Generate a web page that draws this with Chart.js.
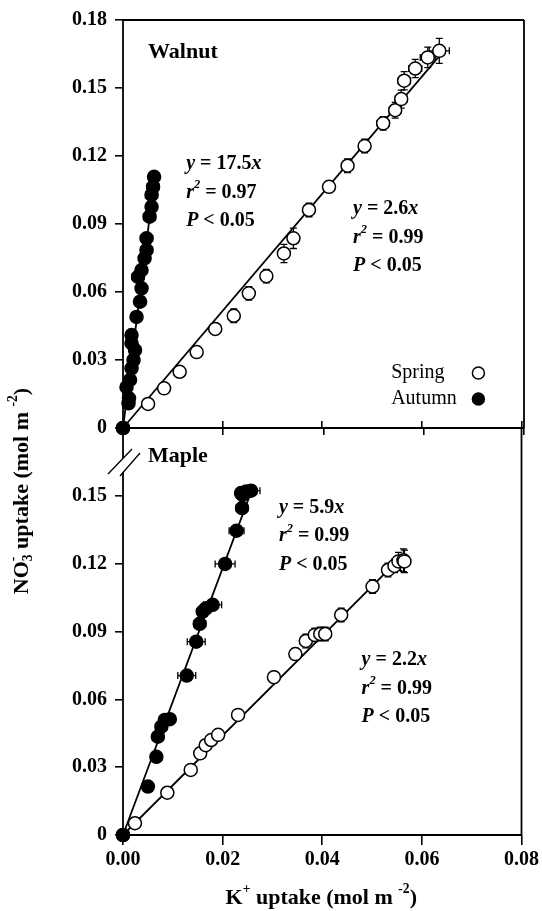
<!DOCTYPE html>
<html>
<head>
<meta charset="utf-8">
<script src="https://cdn.jsdelivr.net/npm/chart.js@4.4.1/dist/chart.umd.min.js"></script>
<style>
  body { margin: 0; background: #fff; }
  #lienzo { position: relative; width: 542px; height: 911px; }
  #lienzo canvas { position: absolute; left: 0; top: 0; }
</style>
</head>
<body>
<div id="lienzo">
  <canvas id="graficoNogal" width="542" height="911"></canvas>
  <canvas id="graficoArce" width="542" height="911"></canvas>
</div>
<script>
// Ticks
const ticksX = [0, 0.02, 0.04, 0.06, 0.08];
const ticksYNogal = [0, 0.03, 0.06, 0.09, 0.12, 0.15, 0.18];
const ticksYArce = [0, 0.03, 0.06, 0.09, 0.12, 0.15];

// Walnut - Spring
const nogalPrimaveraX = [0, 0.0050, 0.0082, 0.0113, 0.0147, 0.0184, 0.0221, 0.0251, 0.0286, 0.0321, 0.0340, 0.0371, 0.0411, 0.0448, 0.0482, 0.0519, 0.0543, 0.0555, 0.0561, 0.0583, 0.0608, 0.0631];
const nogalPrimaveraY = [0, 0.0106, 0.0175, 0.0248, 0.0335, 0.0437, 0.0495, 0.0594, 0.0670, 0.0770, 0.0837, 0.0962, 0.1064, 0.1157, 0.1244, 0.1344, 0.1402, 0.1451, 0.1532, 0.1586, 0.1635, 0.1664];
const nogalPrimaveraErrX = [0, 0.0004, 0.0004, 0.0004, 0.0005, 0.0005, 0.0005, 0.0005, 0.0005, 0.0006, 0.0008, 0.0008, 0.0010, 0.0010, 0.0010, 0.0012, 0.0012, 0.0012, 0.0012, 0.0013, 0.0015, 0.0020];
const nogalPrimaveraErrY = [0, 0.0010, 0.0015, 0.0020, 0.0020, 0.0025, 0.0030, 0.0030, 0.0030, 0.0040, 0.0045, 0.0030, 0.0025, 0.0030, 0.0030, 0.0030, 0.0035, 0.0040, 0.0040, 0.0040, 0.0045, 0.0055];

// Walnut - Autumn
const nogalOtonoX = [0, 0.0011, 0.0012, 0.0007, 0.0014, 0.0017, 0.0021, 0.0024, 0.0017, 0.0017, 0.0027, 0.0034, 0.0037, 0.0030, 0.0037, 0.0043, 0.0047, 0.0047, 0.0053, 0.0057, 0.0057, 0.0060, 0.0062];
const nogalOtonoY = [0, 0.0109, 0.0131, 0.0180, 0.0212, 0.0263, 0.0300, 0.0344, 0.0374, 0.0410, 0.0490, 0.0557, 0.0616, 0.0667, 0.0697, 0.0748, 0.0785, 0.0837, 0.0932, 0.0976, 0.1028, 0.1064, 0.1108];
const nogalOtonoErrX = [0, 0.0003, 0.0003, 0.0003, 0.0003, 0.0004, 0.0005, 0.0005, 0.0005, 0.0005, 0.0005, 0.0006, 0.0008, 0.0012, 0.0010, 0.0008, 0.0012, 0.0012, 0.0012, 0.0010, 0.0012, 0.0012, 0.0010];
const nogalOtonoErrY = [0, 0.0010, 0.0010, 0.0010, 0.0010, 0.0010, 0.0010, 0.0010, 0.0010, 0.0010, 0.0010, 0.0012, 0.0012, 0.0015, 0.0015, 0.0015, 0.0015, 0.0015, 0.0015, 0.0015, 0.0015, 0.0015, 0.0015];

// Maple - Autumn
const arceOtonoX = [0, 0.0050, 0.0067, 0.0070, 0.0077, 0.0084, 0.0094, 0.0128, 0.0147, 0.0154, 0.0160, 0.0167, 0.0180, 0.0205, 0.0228, 0.0239, 0.0237, 0.0240, 0.0247, 0.0257];
const arceOtonoY = [0, 0.0214, 0.0346, 0.0435, 0.0479, 0.0509, 0.0512, 0.0705, 0.0855, 0.0934, 0.0988, 0.1003, 0.1018, 0.1199, 0.1346, 0.1446, 0.1512, 0.1504, 0.1519, 0.1523];
const arceOtonoErrX = [0, 0, 0, 0, 0, 0, 0, 0.0018, 0.0018, 0.0012, 0.0012, 0.0012, 0.0018, 0.0020, 0.0015, 0.0012, 0.0010, 0.0012, 0.0012, 0.0018];
const arceOtonoErrY = [0, 0, 0, 0, 0, 0, 0, 0.0010, 0.0010, 0.0010, 0.0010, 0.0010, 0.0010, 0.0010, 0.0010, 0.0015, 0.0010, 0.0010, 0.0010, 0.0010];

// Maple - Spring
const arcePrimaveraX = [0, 0.0024, 0.0089, 0.0136, 0.0155, 0.0166, 0.0177, 0.0191, 0.0231, 0.0303, 0.0346, 0.0367, 0.0385, 0.0396, 0.0406, 0.0438, 0.0501, 0.0532, 0.0545, 0.0553, 0.0563, 0.0565];
const arcePrimaveraY = [0, 0.0052, 0.0187, 0.0288, 0.0361, 0.0397, 0.0420, 0.0443, 0.0531, 0.0698, 0.0800, 0.0858, 0.0885, 0.0889, 0.0889, 0.0973, 0.1099, 0.1172, 0.1190, 0.1210, 0.1215, 0.1210];
const arcePrimaveraErrX = [0, 0, 0, 0, 0, 0, 0.0010, 0.0010, 0.0010, 0.0008, 0.0008, 0.0008, 0.0008, 0.0008, 0.0010, 0.0010, 0.0010, 0.0010, 0.0010, 0.0010, 0.0012, 0.0012];
const arcePrimaveraErrY = [0, 0.0010, 0.0010, 0.0010, 0.0010, 0.0010, 0.0020, 0.0020, 0.0020, 0.0025, 0.0025, 0.0030, 0.0030, 0.0030, 0.0030, 0.0030, 0.0030, 0.0030, 0.0030, 0.0040, 0.0050, 0.0050];

// Pendientes de las regresiones
const pendienteNogalPrimavera = 2.6;
const pendienteNogalOtono = 17.5;
const pendienteArceOtono = 5.9;
const pendienteArcePrimavera = 2.2;

const fuente = '"Liberation Serif", "Times New Roman", serif';

// dibuja texto por partes (cursiva, superindice, subindice)
function dibujarPartes(ctx, x, y, partes, tam, alinear) {
    const medidas = [];
    let total = 0;
    partes.forEach((p) => {
        const t = p.sup || p.sub ? tam * 0.62 : tam;
        const f = `${p.it ? "italic " : ""}${p.normal ? "" : "bold "}${t}px ${fuente}`;
        ctx.font = f;
        const w = ctx.measureText(p.t).width;
        medidas.push({ f, w, dy: p.sup ? -tam * 0.4 : p.sub ? tam * 0.28 : 0 });
        if (!p.fijo) total += w;
    });
    let cx = alinear === "center" ? x - total / 2 : x;
    ctx.textAlign = "left";
    ctx.textBaseline = "middle";
    partes.forEach((p, i) => {
        ctx.font = medidas[i].f;
        ctx.fillText(p.t, cx, y + medidas[i].dy);
        if (!p.fijo) cx += medidas[i].w;
    });
}

function puntos(xs, ys) {
    return xs.map((x, i) => ({ x, y: ys[i] }));
}

function recta(xs, pendiente) {
    const xmax = Math.max(...xs);
    return [{ x: 0, y: 0 }, { x: xmax, y: pendiente * xmax }];
}

function ecuacion(pendiente, r2) {
    return [
        [{ t: "y", it: true }, { t: " = " + pendiente.toFixed(1) }, { t: "x", it: true }],
        [{ t: "r", it: true }, { t: "2", sup: true, it: true }, { t: " = " + r2 }],
        [{ t: "P", it: true }, { t: " < 0.05" }],
    ];
}

// barras de error (antes de los puntos)
const barrasError = {
    id: "barrasError",
    beforeDatasetsDraw(chart) {
        const { ctx, scales } = chart;
        ctx.save();
        ctx.strokeStyle = "#000";
        ctx.lineWidth = 1.3;
        chart.data.datasets.forEach((ds) => {
            if (!ds.errX) return;
            ds.data.forEach((p, i) => {
                const px = scales.x.getPixelForValue(p.x);
                const py = scales.y.getPixelForValue(p.y);
                const ex = ds.errX[i], ey = ds.errY[i];
                ctx.beginPath();
                if (ex > 0) {
                    const x1 = scales.x.getPixelForValue(p.x - ex);
                    const x2 = scales.x.getPixelForValue(p.x + ex);
                    ctx.moveTo(x1, py); ctx.lineTo(x2, py);
                    ctx.moveTo(x1, py - 3.5); ctx.lineTo(x1, py + 3.5);
                    ctx.moveTo(x2, py - 3.5); ctx.lineTo(x2, py + 3.5);
                }
                if (ey > 0) {
                    const y1 = scales.y.getPixelForValue(p.y - ey);
                    const y2 = scales.y.getPixelForValue(p.y + ey);
                    ctx.moveTo(px, y1); ctx.lineTo(px, y2);
                    ctx.moveTo(px - 3.5, y1); ctx.lineTo(px + 3.5, y1);
                    ctx.moveTo(px - 3.5, y2); ctx.lineTo(px + 3.5, y2);
                }
                ctx.stroke();
            });
        });
        ctx.restore();
    },
};

// marco del panel, con corte opcional en el eje izquierdo
const marco = {
    id: "marco",
    beforeDatasetsDraw(chart, args, opts) {
        const { ctx, chartArea: a } = chart;
        ctx.save();
        ctx.strokeStyle = "#000";
        ctx.lineWidth = 1.8;
        ctx.beginPath();
        if (opts.arriba) { ctx.moveTo(a.left, a.top); ctx.lineTo(a.right, a.top); }
        ctx.moveTo(a.right, a.top); ctx.lineTo(a.right, a.bottom);
        ctx.moveTo(a.left, a.bottom); ctx.lineTo(a.right, a.bottom);
        if (opts.corte) {
            ctx.moveTo(a.left, a.top); ctx.lineTo(a.left, a.top + opts.corte[0]);
            ctx.moveTo(a.left, a.top + opts.corte[1]); ctx.lineTo(a.left, a.bottom);
        } else {
            ctx.moveTo(a.left, a.top); ctx.lineTo(a.left, a.bottom);
        }
        ctx.stroke();
        if (opts.corte) {
            ctx.lineWidth = 1.3;
            ctx.beginPath();
            ctx.moveTo(a.left - 15, a.top + 46); ctx.lineTo(a.left + 9, a.top + 21);
            ctx.moveTo(a.left - 3, a.top + 48); ctx.lineTo(a.left + 17, a.top + 25);
            ctx.stroke();
        }
        ctx.restore();
    },
};

// textos dentro del panel (nombre, ecuaciones, leyenda)
const anotaciones = {
    id: "anotaciones",
    afterDatasetsDraw(chart, args, opts) {
        const { ctx, scales } = chart;
        ctx.save();
        ctx.fillStyle = "#000";
        (opts.items || []).forEach((it) => {
            const x = scales.x.getPixelForValue(it.x);
            const y = scales.y.getPixelForValue(it.y);
            it.lineas.forEach((l, k) => dibujarPartes(ctx, x, y + k * 28.5, l, it.tam || 20));
        });
        (opts.leyenda || []).forEach((l, k) => {
            const x = scales.x.getPixelForValue(l.x);
            const y = scales.y.getPixelForValue(l.y) + k * 26;
            dibujarPartes(ctx, x, y, [{ t: l.texto, normal: true }], 20);
            const mx = scales.x.getPixelForValue(l.xMarca);
            ctx.beginPath();
            ctx.arc(mx, y, 6, 0, Math.PI * 2);
            ctx.fillStyle = l.relleno;
            ctx.fill();
            ctx.lineWidth = 1.5;
            ctx.strokeStyle = "#000";
            ctx.stroke();
            ctx.fillStyle = "#000";
        });
        if (opts.titulos) {
            const a = chart.chartArea;
            dibujarPartes(ctx, (a.left + a.right) / 2 - 1, a.bottom + 63, [
                { t: "K" }, { t: "+", sup: true }, { t: " uptake (mol m " }, { t: "-2", sup: true }, { t: ")" },
            ], 22, "center");
            ctx.translate(22, 491);
            ctx.rotate(-Math.PI / 2);
            dibujarPartes(ctx, 0, 0, [
                { t: "NO" }, { t: "-", sup: true, fijo: true }, { t: "3", sub: true },
                { t: " uptake (mol m " }, { t: "-2", sup: true }, { t: ")" },
            ], 22, "center");
        }
        ctx.restore();
    },
};

function escalaY(ticksY) {
    return {
        type: "linear", min: 0, max: 0.18,
        afterBuildTicks: (s) => { s.ticks = ticksY.map((v) => ({ value: v })); },
        afterFit: (s) => { s.width = 123; },
        border: { display: false },
        grid: { drawOnChartArea: false, color: "#000", lineWidth: 1.6, tickLength: 8 },
        ticks: {
            color: "#000", padding: 8,
            font: { family: fuente, size: 20, weight: "bold" },
            callback: (v) => (v === 0 ? "0" : v.toFixed(2)),
        },
    };
}

function escalaX(etiquetas, alto, posicion, largo) {
    return {
        type: "linear", min: 0, max: 0.08, position: posicion,
        afterBuildTicks: (s) => { s.ticks = ticksX.map((v) => ({ value: v })); },
        afterFit: (s) => { s.height = alto; },
        border: { display: false },
        grid: { drawOnChartArea: false, color: "#000", lineWidth: 1.6, tickLength: largo },
        ticks: {
            display: etiquetas, color: "#000", padding: 3, maxRotation: 0,
            font: { family: fuente, size: 20, weight: "bold" },
            callback: (v) => v.toFixed(2),
        },
    };
}

function serie(datos, relleno, errX, errY, orden) {
    return {
        type: "scatter", data: datos, errX, errY, order: orden, clip: false,
        pointRadius: 6.5, pointHoverRadius: 6.5, pointBorderWidth: 1.5,
        pointBackgroundColor: relleno, pointBorderColor: "#000",
    };
}

function linea(datos) {
    return {
        type: "line", data: datos, order: 5, clip: false,
        borderColor: "#000", borderWidth: 1.8, pointRadius: 0, fill: false,
    };
}

const opcionesBase = {
    responsive: false,
    animation: false,
    events: [],
};

// Panel superior: Walnut
new Chart(document.getElementById("graficoNogal"), {
    type: "scatter",
    data: {
        datasets: [
            serie(puntos(nogalPrimaveraX, nogalPrimaveraY), "#fff", nogalPrimaveraErrX, nogalPrimaveraErrY, 2),
            serie(puntos(nogalOtonoX, nogalOtonoY), "#000", nogalOtonoErrX, nogalOtonoErrY, 1),
            linea(recta(nogalPrimaveraX, pendienteNogalPrimavera)),
            linea(recta(nogalOtonoX, pendienteNogalOtono)),
        ],
    },
    options: {
        ...opcionesBase,
        layout: { padding: { top: 20, right: 18, bottom: 911 - 428 - 12, left: 0 } },
        scales: { x: escalaX(false, 12, "bottom", 7), y: escalaY(ticksYNogal) },
        plugins: {
            legend: { display: false },
            tooltip: { enabled: false },
            marco: { arriba: true },
            anotaciones: {
                items: [
                    { x: 0.0050, y: 0.1658, tam: 22, lineas: [[{ t: "Walnut" }]] },
                    { x: 0.0126, y: 0.1164, lineas: ecuacion(pendienteNogalOtono, "0.97") },
                    { x: 0.0459, y: 0.0966, lineas: ecuacion(pendienteNogalPrimavera, "0.99") },
                ],
                leyenda: [
                    { texto: "Spring", x: 0.0535, y: 0.0243, xMarca: 0.0709, relleno: "#fff" },
                    { texto: "Autumn", x: 0.0535, y: 0.0243, xMarca: 0.0709, relleno: "#000" },
                ],
            },
        },
    },
    plugins: [marco, barrasError, anotaciones],
});

// Panel inferior: Maple
new Chart(document.getElementById("graficoArce"), {
    type: "scatter",
    data: {
        datasets: [
            serie(puntos(arcePrimaveraX, arcePrimaveraY), "#fff", arcePrimaveraErrX, arcePrimaveraErrY, 2),
            serie(puntos(arceOtonoX, arceOtonoY), "#000", arceOtonoErrX, arceOtonoErrY, 1),
            linea(recta(arcePrimaveraX, pendienteArcePrimavera)),
            linea(recta(arceOtonoX, pendienteArceOtono)),
        ],
    },
    options: {
        ...opcionesBase,
        layout: { padding: { top: 428, right: 18, bottom: 0, left: 0 } },
        scales: {
            x: escalaX(true, 911 - 835, "bottom", 10),
            x2: escalaX(false, 0, "top", 7),
            y: escalaY(ticksYArce),
        },
        plugins: {
            legend: { display: false },
            tooltip: { enabled: false },
            marco: { arriba: false, corte: [30, 44] },
            anotaciones: {
                titulos: true,
                items: [
                    { x: 0.0050, y: 0.1673, tam: 22, lineas: [[{ t: "Maple" }]] },
                    { x: 0.0313, y: 0.1447, lineas: ecuacion(pendienteArceOtono, "0.99") },
                    { x: 0.0479, y: 0.0774, lineas: ecuacion(pendienteArcePrimavera, "0.99") },
                ],
            },
        },
    },
    plugins: [marco, barrasError, anotaciones],
});
</script>
</body>
</html>
